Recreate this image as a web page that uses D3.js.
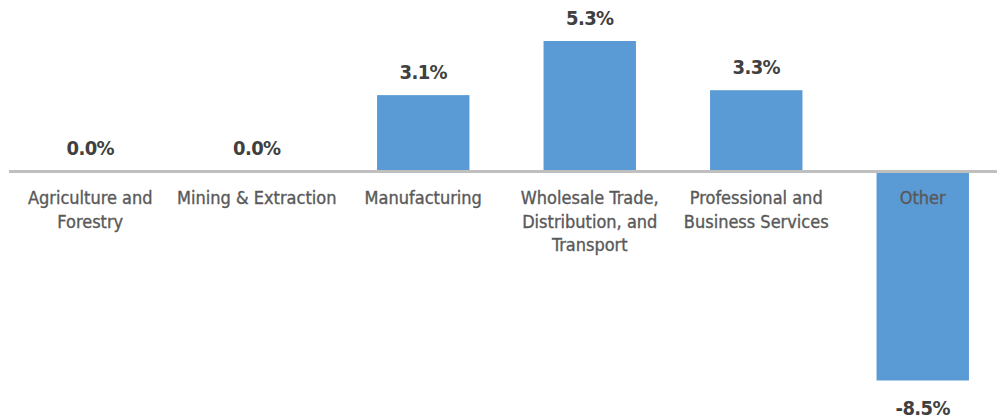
<!DOCTYPE html>
<head>
  <meta charset="utf-8">
  <script src="https://d3js.org/d3.v7.min.js"></script>
  <style>
    body { margin: 0; background: #fff; }
    text { font-family: "Liberation Sans Narrow", "DejaVu Sans Condensed", sans-serif; }
  </style>
</head>
<body>
  <svg width="997" height="419"></svg>
  <script>
    const categories = [
      ['Agriculture and', 'Forestry'],
      ['Mining & Extraction'],
      ['Manufacturing'],
      ['Wholesale Trade,', 'Distribution, and', 'Transport'],
      ['Professional and', 'Business Services'],
      ['Other']
    ];
    const values = [0.0, 0.0, 3.1, 5.3, 3.3, -8.5];

    const svg = d3.select('svg');
    const names = categories.map(c => c.join(' '));

    const x = d3.scaleBand()
      .domain(names)
      .range([7, 1006])
      .paddingInner(0.445)
      .paddingOuter(0.2225);
    const y = d3.scaleLinear().domain([-8.5, 5.3]).range([380.5, 41]);

    svg.append('g').selectAll('rect')
      .data(values)
      .join('rect')
        .attr('x', (d, i) => x(names[i]))
        .attr('width', x.bandwidth())
        .attr('y', d => y(Math.max(0, d)))
        .attr('height', d => Math.abs(y(d) - y(0)))
        .attr('fill', '#5B9BD5');

    // zero line
    svg.append('line')
      .attr('x1', 9).attr('x2', 997)
      .attr('y1', y(0)).attr('y2', y(0))
      .attr('stroke', '#BFBFBF')
      .attr('stroke-width', 3);

    // value labels
    svg.append('g').selectAll('text')
      .data(values)
      .join('text')
        .attr('x', (d, i) => x(names[i]) + x.bandwidth() / 2)
        .attr('y', d => d >= 0 ? y(d) - 16.5 : y(d) + 34)
        .attr('text-anchor', 'middle')
        .attr('font-size', 20)
        .attr('font-weight', 'bold')
        .attr('letter-spacing', -0.6)
        .attr('fill', '#404040')
        .text(d => d.toFixed(1) + '%');

    // category labels
    const cat = svg.append('g').selectAll('text')
      .data(categories)
      .join('text')
        .attr('x', (d, i) => x(names[i]) + x.bandwidth() / 2)
        .attr('y', 204)
        .attr('text-anchor', 'middle')
        .attr('font-size', 18)
        .attr('fill', '#595959')
        .attr('stroke', '#595959')
        .attr('stroke-width', 0.35);
    cat.selectAll('tspan')
      .data(d => d)
      .join('tspan')
        .attr('x', function () { return this.parentNode.getAttribute('x'); })
        .attr('dy', (d, i) => i ? 23.5 : 0)
        .text(d => d);
  </script>
</body>
